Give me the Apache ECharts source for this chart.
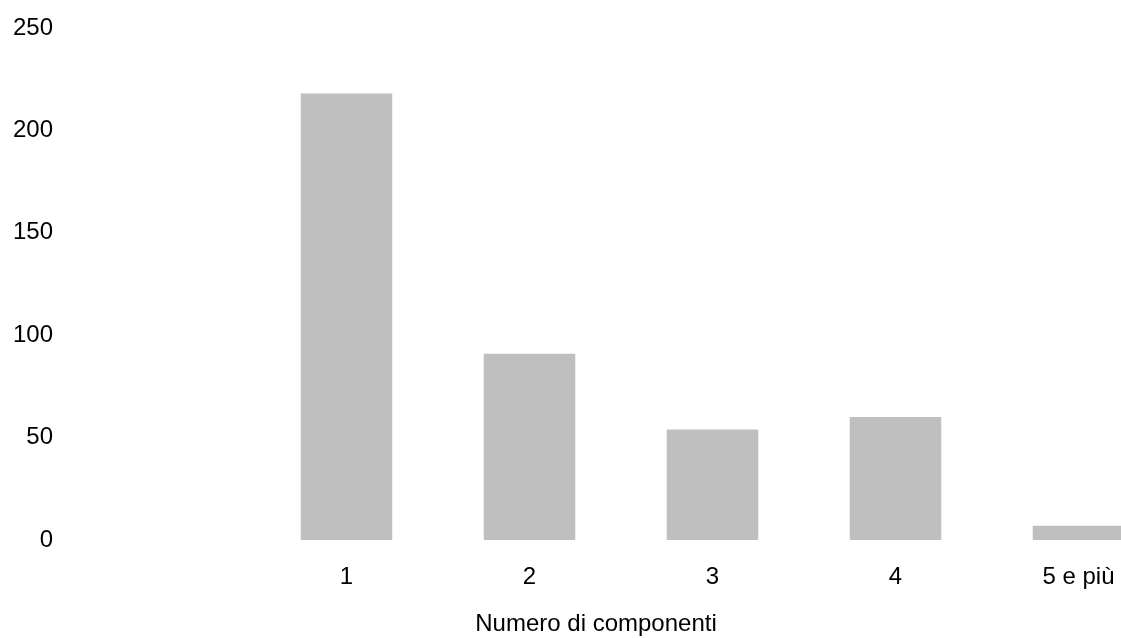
<!DOCTYPE html>
<html>
<head>
<meta charset="utf-8">
<script src="https://cdn.jsdelivr.net/npm/echarts@6/dist/echarts.min.js"></script>
<style>
html,body{margin:0;padding:0;background:#fff;}
#chart{width:1121px;height:638px;}
</style>
</head>
<body>
<div id="chart"></div>
<script>
const categories = ['1', '2', '3', '4', '5 e più'];
const values = [218, 91, 54, 60, 7];
const yTicks = [0, 50, 100, 150, 200, 250];
const xAxisTitle = 'Numero di componenti';

const chart = echarts.init(document.getElementById('chart'));
const font = '"Liberation Sans", Arial, sans-serif';
chart.setOption({
  animation: false,
  title: {
    text: xAxisTitle,
    left: 591,
    top: 607,
    textAlign: 'center',
    textStyle: { fontFamily: font, fontSize: 24, fontWeight: 'normal', color: '#000' }
  },
  grid: { left: 255, right: -49, top: 28, bottom: 98, outerBoundsMode: 'none', containLabel: false },
  xAxis: {
    type: 'category',
    data: categories,
    axisLine: { show: false },
    axisTick: { show: false },
    axisLabel: { margin: 25, fontFamily: font, fontSize: 24, color: '#000' }
  },
  yAxis: {
    type: 'value',
    min: yTicks[0],
    max: yTicks[yTicks.length - 1],
    interval: 50,
    splitLine: { show: false },
    axisLine: { show: false },
    axisTick: { show: false },
    axisLabel: { margin: 202, fontFamily: font, fontSize: 24, color: '#000' }
  },
  series: [{
    type: 'bar',
    data: values,
    barWidth: '50%',
    itemStyle: { color: '#bfbfbf' }
  }]
});
</script>
</body>
</html>
